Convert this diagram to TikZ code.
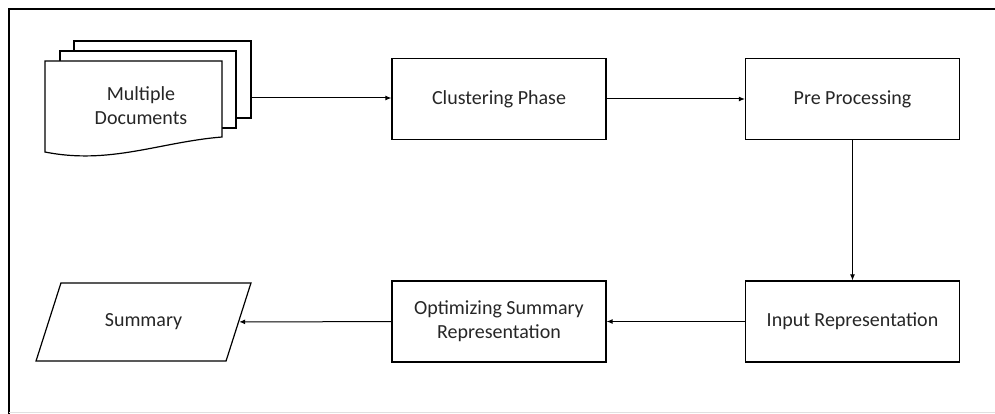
\documentclass[tikz,border=0pt]{standalone}
\usepackage{fontspec}
\setmainfont{Carlito}
\usetikzlibrary{arrows.meta, positioning}
\usetikzlibrary{shapes.geometric}

\begin{document}
\begin{tikzpicture}[x=1pt, y=-1pt,
    box/.style={rectangle, draw, line width=1.2pt, minimum width=214pt, minimum height=81pt, align=center, text=black!85, font=\fontsize{20}{24}\selectfont},
    arr/.style={-{Latex[length=6pt,width=5pt]}, line width=1pt}]
        \useasboundingbox (0,0) rectangle (995,414);
        % frame
        \draw[line width=2.5pt] (9,414) -- (9,9) -- (995,9);
        \draw[black!12] (9,412.5) -- (995,412.5);

        % document stack
        \draw[line width=1.2pt] (74,51) -- (74,41) -- (251,41) -- (251,118) -- (236,118);
        \draw[line width=1.2pt] (60,61) -- (60,51) -- (236,51) -- (236,128) -- (222,128);
        \draw[line width=1.2pt, fill=white] (45,61) -- (222,61) -- (222,137) .. controls (160,142) and (110,165) .. (45,152) -- cycle;
        \node[align=center, text=black!85, font=\fontsize{20}{24}\selectfont] (docs) at (141,106) {Multiple\\Documents};
        \coordinate (docsout) at (251,98);

        % process boxes
        \node[box] (cluster) at (499,99) {Clustering Phase};
        \node[box] (prep) at (852.5,99) {Pre Processing};
        \node[box] (inrep) at (852.5,321.5) {Input Representation};
        \node[box] (optsum) at (499,321.5) {Optimizing Summary\\Representation};

        % output
        \node[trapezium, trapezium left angle=61, trapezium right angle=119, trapezium stretches=true, draw, line width=1.2pt, minimum width=215pt, minimum height=78pt, text=black!85, font=\fontsize{20}{24}\selectfont] (summary) at (143.5,322) {Summary};

        % arrows
        \draw[arr] (docsout) -- (docsout -| cluster.west);
        \draw[arr] (cluster) -- (prep);
        \draw[arr] (prep) -- (inrep);
        \draw[arr] (inrep) -- (optsum);
        \draw[arr] (optsum) -- (summary);
    \end{tikzpicture}
\end{document}
